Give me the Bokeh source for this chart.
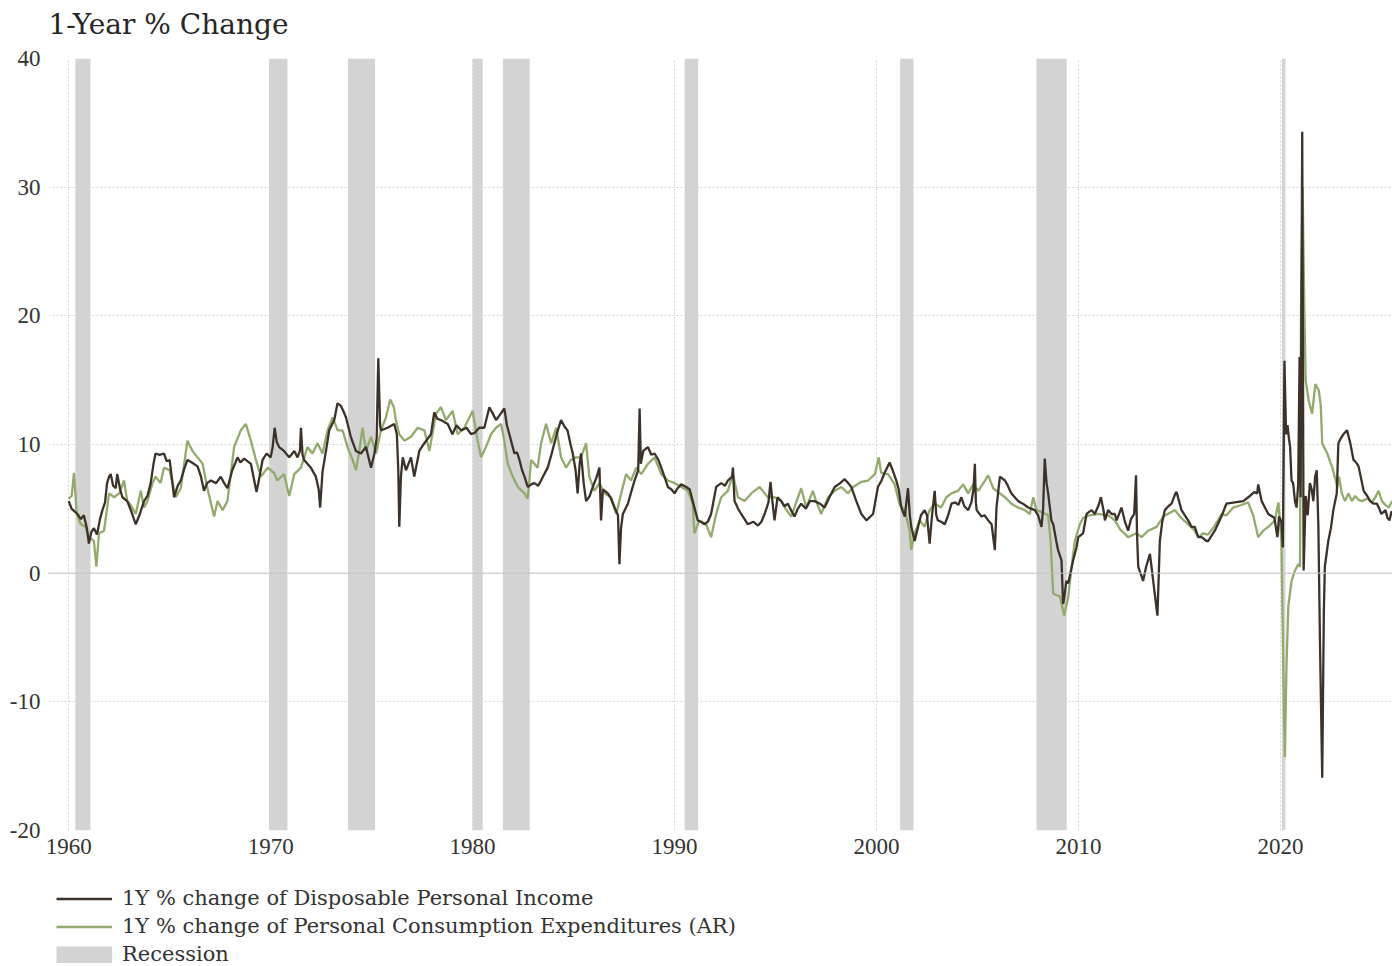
from bokeh.plotting import figure
from bokeh.layouts import column
from bokeh.models import Range1d, FixedTicker, Span, Legend, LegendItem, ColumnDataSource, Label
from bokeh.embed import file_html
from bokeh.resources import INLINE

# ---------------- data ----------------
dpi_year = [1960.00,1960.15,1960.43,1960.6,1960.75,1960.9,1961.0,1961.12,1961.25,1961.4,1961.55,1961.67,1961.8,1961.9,
 1962.0,1962.08,1962.2,1962.33,1962.4,1962.55,1962.66,1962.9,1963.1,1963.32,1963.5,1963.73,1963.9,1964.06,1964.2,1964.3,
 1964.5,1964.72,1964.85,1965.0,1965.1,1965.22,1965.4,1965.55,1965.7,1965.88,1966.1,1966.38,1966.55,1966.7,1966.85,1967.04,
 1967.3,1967.53,1967.7,1967.86,1968.1,1968.36,1968.5,1968.69,1969.02,1969.15,1969.3,1969.45,1969.6,1969.8,1970.0,1970.1,
 1970.2,1970.3,1970.42,1970.66,1970.92,1971.17,1971.33,1971.45,1971.5,1971.58,1971.66,1971.99,1972.24,1972.38,1972.45,
 1972.57,1972.74,1972.9,1973.15,1973.31,1973.48,1973.6,1973.73,1973.97,1974.22,1974.47,1974.72,1974.97,1975.14,1975.25,
 1975.33,1975.42,1975.46,1975.79,1976.12,1976.25,1976.32,1976.37,1976.45,1976.54,1976.7,1976.95,1977.11,1977.36,1977.61,
 1977.94,1978.1,1978.25,1978.43,1978.77,1979.0,1979.2,1979.43,1979.7,1979.92,1980.1,1980.33,1980.58,1980.83,1981.0,1981.16,
 1981.35,1981.57,1981.7,1981.82,1982.07,1982.2,1982.32,1982.45,1982.57,1982.73,1982.9,1983.06,1983.25,1983.39,1983.55,
 1983.72,1983.9,1984.05,1984.2,1984.38,1984.55,1984.7,1984.85,1984.96,1985.1,1985.2,1985.3,1985.37,1985.5,1985.62,1985.8,
 1985.95,1986.15,1986.28,1986.36,1986.45,1986.7,1986.85,1987.03,1987.2,1987.27,1987.35,1987.44,1987.69,1987.85,1988.02,
 1988.2,1988.27,1988.33,1988.45,1988.68,1988.85,1989.01,1989.2,1989.34,1989.5,1989.67,1989.85,1990.0,1990.15,1990.33,
 1990.58,1990.75,1990.9,1991.15,1991.3,1991.48,1991.65,1991.81,1992.06,1992.31,1992.5,1992.64,1992.85,1992.89,1992.97,
 1993.15,1993.3,1993.63,1993.9,1994.13,1994.3,1994.46,1994.65,1994.75,1994.85,1994.95,1995.1,1995.28,1995.45,1995.61,
 1995.8,1995.94,1996.1,1996.27,1996.5,1996.7,1996.93,1997.2,1997.43,1997.7,1997.93,1998.2,1998.42,1998.6,1998.75,1999.0,
 1999.25,1999.5,1999.83,2000.07,2000.25,2000.4,2000.65,2000.8,2000.98,2001.1,2001.23,2001.4,2001.48,2001.56,2001.65,
 2001.72,2001.89,2002.06,2002.2,2002.38,2002.5,2002.63,2002.75,2002.88,2002.96,2003.04,2003.2,2003.38,2003.55,2003.71,
 2003.9,2004.05,2004.2,2004.35,2004.54,2004.7,2004.8,2004.87,2004.92,2004.96,2005.2,2005.35,2005.53,2005.7,2005.86,
 2005.94,2006.11,2006.36,2006.5,2006.68,2007.01,2007.25,2007.51,2007.84,2008.0,2008.17,2008.25,2008.33,2008.42,2008.5,
 2008.66,2008.75,2008.9,2008.99,2009.16,2009.24,2009.29,2009.4,2009.49,2009.74,2009.9,2009.99,2010.23,2010.4,2010.48,
 2010.65,2010.81,2011.0,2011.11,2011.25,2011.31,2011.47,2011.64,2011.8,2011.89,2012.13,2012.3,2012.46,2012.6,2012.76,
 2012.85,2012.9,2012.96,2013.2,2013.35,2013.54,2013.7,2013.91,2014.03,2014.15,2014.28,2014.45,2014.61,2014.8,2014.86,
 2015.1,2015.43,2015.6,2015.76,2015.93,2016.1,2016.34,2016.42,2016.75,2017.08,2017.25,2017.33,2017.74,2018.16,2018.49,
 2018.7,2018.85,2018.9,2019.07,2019.4,2019.7,2019.85,2019.93,2020.05,2020.12,2020.2,2020.28,2020.35,2020.42,2020.48,
 2020.55,2020.63,2020.72,2020.8,2020.88,2020.95,2021.0,2021.08,2021.15,2021.25,2021.35,2021.46,2021.55,2021.63,2021.72,
 2021.8,2021.88,2021.96,2022.07,2022.15,2022.2,2022.37,2022.5,2022.62,2022.79,2022.87,2023.0,2023.12,2023.3,2023.46,
 2023.62,2023.75,2023.87,2024.12,2024.3,2024.45,2024.6,2024.78,2024.9,2025.0,2025.2,2025.3,2025.4,2025.5,2025.58]
dpi_val = [5.6,5.0,4.6,4.2,4.5,3.5,2.3,3.2,3.5,3.0,4.2,4.9,5.5,7.0,
 7.5,7.7,6.8,6.6,7.7,6.5,5.9,5.6,4.8,3.8,4.5,5.6,6.0,7.0,8.5,9.3,
 9.2,9.3,8.7,8.8,7.5,5.9,6.8,7.2,8.0,8.8,8.6,8.3,7.5,6.4,7.0,7.2,
 7.0,7.5,7.0,6.6,8.0,9.0,8.6,8.9,8.5,7.5,6.3,7.5,8.8,9.3,9.0,9.8,
 11.3,10.2,9.8,9.5,9.0,9.5,9.0,9.5,11.3,9.2,8.8,8.2,7.5,6.5,5.1,
 7.9,9.5,11.1,11.9,13.2,13.0,12.6,12.1,10.6,9.5,9.3,9.8,8.2,9.3,10.5,
 16.7,11.5,11.1,11.3,11.6,10.8,8.0,3.6,7.5,9.0,8.0,9.0,7.5,9.5,10.1,
 10.8,12.5,12.0,11.9,11.6,10.8,11.5,11.1,11.3,10.8,10.9,11.3,11.3,12.9,12.4,11.9,
 12.3,12.8,11.5,10.8,9.3,9.4,8.8,8.0,7.5,6.7,6.9,7.0,6.8,7.2,7.7,
 8.2,9.2,10.1,11.0,11.9,11.4,11.1,10.0,9.3,8.0,6.2,8.5,9.3,7.0,5.6,6.0,
 6.7,7.5,8.2,4.1,6.5,6.2,5.8,5.1,4.5,0.7,3.5,4.6,5.4,6.3,7.2,
 8.0,12.8,8.5,9.5,9.8,9.2,9.3,8.8,8.2,7.5,6.7,6.5,6.2,6.6,6.9,
 6.7,6.5,5.6,4.1,4.0,3.8,4.0,4.6,6.7,7.0,6.8,7.2,7.5,8.2,5.6,
 5.0,4.6,3.8,4.0,3.7,4.0,4.6,5.5,7.1,5.5,4.1,5.9,5.6,5.2,5.4,
 4.8,4.4,5.0,5.4,5.0,5.6,5.6,5.4,5.1,6.0,6.7,7.0,7.3,7.0,6.7,5.6,
 4.6,4.1,4.6,6.7,7.2,7.8,8.6,8.0,7.2,6.5,5.1,4.4,5.5,6.6,4.5,
 3.6,2.5,3.6,4.5,4.9,4.5,2.3,4.5,6.4,4.5,4.1,4.0,3.8,4.5,5.4,
 5.5,5.3,5.9,5.2,4.9,5.5,6.5,8.5,5.5,4.9,4.4,4.5,4.1,3.8,1.8,
 5.1,7.5,7.2,6.8,6.2,5.6,5.4,5.1,4.9,4.5,3.6,5.0,8.9,7.0,6.2,
 4.1,3.8,2.5,1.8,1.0,-2.4,-2.0,-0.6,-0.8,1.0,2.0,2.8,3.1,4.6,4.7,
 4.9,4.6,5.3,5.9,4.8,4.1,4.9,4.6,4.6,4.1,5.1,4.0,3.3,4.2,4.6,
 7.6,3.0,0.5,-0.6,0.5,1.5,-0.6,-3.3,2.5,4.0,4.9,5.2,5.4,6.2,6.3,
 4.9,4.1,3.6,3.6,2.8,2.8,2.5,2.5,3.3,4.4,5.1,5.4,5.5,5.6,6.0,
 6.3,6.2,6.9,5.6,4.6,4.3,2.8,4.4,4.0,2.0,16.5,10.8,11.5,10.5,9.8,
 7.2,7.0,5.6,5.1,6.9,16.8,5.9,34.3,0.2,6.0,4.5,7.0,6.5,5.6,7.5,
 8.0,3.6,-5.5,-15.9,-3.0,0.5,2.5,3.5,4.9,6.2,10.1,10.5,10.8,11.1,10.1,
 8.8,8.6,8.3,6.4,6.0,5.6,5.4,5.4,5.0,4.6,4.9,4.3,4.1,4.8,4.6]

pce_year = [1960.0,1960.15,1960.26,1960.4,1960.6,1960.83,1961.0,1961.25,1961.37,1961.5,1961.75,1962.0,1962.25,1962.5,
 1962.74,1962.9,1963.07,1963.32,1963.57,1963.73,1963.9,1964.15,1964.3,1964.55,1964.72,1965.0,1965.3,1965.55,1965.88,
 1966.13,1966.38,1966.63,1966.87,1967.2,1967.37,1967.62,1967.86,1968.19,1968.52,1968.77,1969.02,1969.27,1969.52,1969.85,
 1970.17,1970.33,1970.66,1970.92,1971.17,1971.5,1971.82,1972.07,1972.32,1972.57,1972.82,1973.07,1973.32,1973.56,1973.81,
 1974.06,1974.22,1974.39,1974.55,1974.72,1974.97,1975.22,1975.46,1975.71,1975.92,1976.1,1976.2,1976.37,1976.62,1976.95,
 1977.28,1977.61,1977.86,1978.19,1978.43,1978.68,1979.01,1979.26,1979.59,1979.84,1980.0,1980.25,1980.42,1980.66,1980.91,
 1981.16,1981.41,1981.57,1981.74,1981.99,1982.24,1982.57,1982.73,1982.9,1983.22,1983.39,1983.64,1983.89,1984.14,1984.38,
 1984.63,1984.87,1985.12,1985.37,1985.62,1985.78,1986.03,1986.28,1986.53,1986.86,1987.11,1987.36,1987.6,1987.85,1988.1,
 1988.35,1988.68,1989.01,1989.34,1989.67,1990.0,1990.33,1990.66,1990.9,1990.98,1991.23,1991.56,1991.81,1992.06,1992.31,
 1992.64,1992.89,1993.14,1993.47,1993.8,1994.21,1994.62,1994.95,1995.28,1995.5,1995.78,1996.0,1996.27,1996.52,1996.85,
 1997.01,1997.26,1997.6,1997.93,1998.26,1998.59,1998.84,1999.25,1999.58,1999.92,2000.11,2000.23,2000.57,2000.9,2001.15,
 2001.4,2001.64,2001.72,2001.89,2002.14,2002.38,2002.63,2002.88,2003.2,2003.46,2003.71,2004.04,2004.29,2004.54,2004.79,
 2005.04,2005.37,2005.53,2005.78,2006.11,2006.36,2006.68,2007.01,2007.34,2007.59,2007.76,2007.92,2008.25,2008.5,2008.62,
 2008.75,2008.91,2009.08,2009.29,2009.49,2009.66,2009.82,2010.07,2010.23,2010.56,2010.97,2011.47,2011.8,2012.06,2012.46,
 2012.87,2013.12,2013.45,2013.87,2014.2,2014.53,2014.78,2015.02,2015.43,2015.76,2015.93,2016.18,2016.42,2016.75,2017.08,
 2017.33,2017.66,2018.07,2018.4,2018.65,2018.9,2019.15,2019.4,2019.73,2019.9,2020.05,2020.14,2020.22,2020.3,2020.39,
 2020.55,2020.72,2020.88,2020.97,2021.02,2021.1,2021.18,2021.25,2021.4,2021.57,2021.73,2021.9,2022.0,2022.07,2022.32,
 2022.57,2022.82,2022.9,2023.04,2023.2,2023.37,2023.54,2023.7,2023.87,2024.04,2024.3,2024.53,2024.7,2024.86,2025.03,
 2025.2,2025.36,2025.53]
pce_val = [5.8,6.0,7.8,4.6,3.8,3.6,2.8,2.5,0.5,3.1,3.3,6.2,5.9,6.2,
 7.2,5.6,5.3,4.6,6.4,5.1,5.6,7.0,7.5,7.0,8.2,8.0,5.9,6.6,10.3,
 9.5,9.0,8.5,6.6,4.4,5.6,4.9,5.6,9.8,11.1,11.6,10.3,8.8,7.5,8.2,
 7.8,7.2,7.7,6.0,7.7,8.2,9.8,9.3,10.1,9.3,11.1,12.1,11.1,11.1,9.8,
 8.8,8.0,9.5,11.3,9.5,10.6,9.3,11.1,12.1,13.5,12.9,11.9,10.8,10.3,10.6,
 11.3,11.1,9.5,12.4,12.9,11.9,12.6,10.8,11.3,12.1,12.6,10.3,9.0,9.8,10.8,
 11.3,11.6,10.3,8.5,7.5,6.7,6.2,5.8,8.8,8.2,10.1,11.6,10.1,11.3,9.0,
 8.2,8.8,9.0,9.0,10.1,7.5,6.4,7.0,6.2,5.9,4.6,6.2,7.7,7.2,8.2,
 7.7,8.5,9.0,7.7,7.2,7.0,6.7,6.4,5.4,3.1,4.1,3.8,2.8,4.6,5.9,
 6.4,7.7,5.9,5.6,6.2,6.7,5.9,5.9,5.6,5.0,4.4,5.4,6.6,5.1,6.4,
 5.6,4.6,5.9,6.4,6.7,6.2,6.7,7.1,7.2,7.7,9.0,7.8,7.7,6.9,5.3,
 4.9,3.3,1.8,3.1,4.1,3.6,4.9,5.4,5.1,5.9,6.2,6.4,6.9,6.2,6.9,
 6.4,7.2,7.6,6.6,6.2,5.9,5.4,5.1,4.9,4.6,5.9,4.9,4.7,4.5,2.5,
 -1.6,-1.7,-1.8,-3.3,-1.9,0.5,2.5,3.8,4.3,4.5,4.6,4.5,4.1,3.4,2.8,
 3.1,2.8,3.3,3.6,4.4,4.7,4.9,4.4,3.8,3.3,2.8,3.1,3.0,3.7,4.6,
 4.5,5.1,5.3,5.5,4.5,2.8,3.3,3.6,4.1,5.5,2.5,-7.3,-14.3,-7.3,-2.6,
 -0.6,0.2,0.7,0.5,21.0,30.0,21.0,15.0,13.4,12.4,14.7,14.2,13.0,10.1,9.3,
 8.2,6.7,7.5,6.2,5.6,6.2,5.6,6.0,5.7,5.6,5.8,5.5,5.9,6.4,5.6,
 5.3,5.1,5.6]

recession_start = [1960.33, 1969.92, 1973.83, 1980.0, 1981.5, 1990.5, 2001.17, 2007.92, 2020.08]
recession_end = [1961.08, 1970.83, 1975.17, 1980.5, 1982.83, 1991.17, 2001.83, 2009.42, 2020.25]

x_ticks = [1960, 1970, 1980, 1990, 2000, 2010, 2020]
y_ticks = [-20, -10, 0, 10, 20, 30, 40]
x_tick_labels = {t: str(t) for t in x_ticks}
y_tick_labels = {t: str(t) for t in y_ticks}

title_text = "1-Year % Change"
dpi_label = "1Y % change of Disposable Personal Income"
pce_label = "1Y % change of Personal Consumption Expenditures (AR)"
rec_label = "Recession"

Y_MIN, Y_MAX = -20, 40
X_MIN, X_MAX = 1959.0, 2025.55

DPI_COLOR = "#3d3229"
PCE_COLOR = "#92aa6c"
REC_COLOR = "#d3d3d3"

W = 1392

# ---------------- title strip ----------------
tt = figure(width=W, height=40, output_backend="svg", toolbar_location=None,
            x_range=Range1d(0, 1), y_range=Range1d(0, 1),
            x_axis_type=None, y_axis_type=None,
            min_border_left=0, min_border_right=0, min_border_top=0, min_border_bottom=0)
tt.outline_line_color = None
tt.xgrid.visible = False
tt.ygrid.visible = False
tt.title.text = ""
tt.title.text_font_size = "1px"
tt.title.standoff = 0
tt.background_fill_color = "white"
tt.border_fill_color = "white"
tt.add_layout(Label(x=0, y=16, x_units="screen", y_units="screen", text=title_text,
                    text_font="DejaVu Serif", text_font_size="28px", text_color="#262626",
                    text_align="left", text_baseline="alphabetic"))

# ---------------- main figure ----------------
p = figure(width=W, height=838, output_backend="svg", toolbar_location=None,
           x_range=Range1d(X_MIN, X_MAX), y_range=Range1d(Y_MIN, Y_MAX),
           min_border_left=48, min_border_right=0, min_border_top=18, min_border_bottom=48)
p.outline_line_color = None
p.background_fill_color = "white"
p.border_fill_color = "white"
p.title.text = ""
p.title.text_font_size = "1px"
p.title.standoff = 0

for ax in (p.xaxis[0], p.yaxis[0]):
    ax.axis_line_color = None
    ax.major_tick_line_color = None
    ax.minor_tick_line_color = None
    ax.major_tick_out = 0
    ax.major_tick_in = 0
    ax.major_label_text_font = "Liberation Serif"
    ax.major_label_text_font_size = "23px"
    ax.major_label_text_color = "#333333"

p.xaxis.ticker = FixedTicker(ticks=x_ticks)
p.yaxis.ticker = FixedTicker(ticks=y_ticks)
p.xaxis.major_label_overrides = x_tick_labels
p.yaxis.major_label_overrides = y_tick_labels
p.xaxis.major_label_standoff = 8
p.yaxis.major_label_standoff = 8

p.xgrid.ticker = FixedTicker(ticks=x_ticks)
p.ygrid.ticker = FixedTicker(ticks=y_ticks)
for g in (p.xgrid[0], p.ygrid[0]):
    g.grid_line_color = "#d4d4d4"
    g.grid_line_dash = "2 2"
    g.grid_line_width = 1

rec_src = ColumnDataSource(dict(left=recession_start, right=recession_end,
                                top=[Y_MAX] * len(recession_start),
                                bottom=[Y_MIN] * len(recession_start)))
p.quad(left="left", right="right", top="top", bottom="bottom", source=rec_src,
       fill_color=REC_COLOR, line_color=None)

zero = Span(location=0, dimension="width", line_color="#c4c4c4", line_width=1)
p.add_layout(zero)

p.line(pce_year, pce_val, line_color=PCE_COLOR, line_width=2.3)
p.line(dpi_year, dpi_val, line_color=DPI_COLOR, line_width=2.3)

# ---------------- legend strip ----------------
lg = figure(width=W, height=88, output_backend="svg", toolbar_location=None,
            x_range=Range1d(0, 1), y_range=Range1d(0, 1),
            x_axis_type=None, y_axis_type=None,
            min_border_left=48, min_border_right=0, min_border_top=0, min_border_bottom=0)
lg.outline_line_color = None
lg.xgrid.visible = False
lg.ygrid.visible = False
lg.background_fill_color = "white"
lg.border_fill_color = "white"

# legend-only renderers: their points lie outside the strip's visible range
off_x = [-10, -9]
off_y = [-10, -10]
r_dpi = lg.line(x=off_x, y=off_y, line_color=DPI_COLOR, line_width=2.5)
r_pce = lg.line(x=off_x, y=off_y, line_color=PCE_COLOR, line_width=2.5)
r_rec = lg.line(x=off_x, y=off_y, line_color=REC_COLOR, line_width=17, line_cap="butt")

legend = Legend(items=[LegendItem(label=dpi_label, renderers=[r_dpi]),
                       LegendItem(label=pce_label, renderers=[r_pce]),
                       LegendItem(label=rec_label, renderers=[r_rec])],
                location="top_left", orientation="vertical",
                label_text_font="DejaVu Serif", label_text_font_size="21px",
                label_text_color="#333333",
                glyph_width=56, glyph_height=17, label_standoff=10,
                spacing=4, padding=0, margin=8,
                border_line_color=None, background_fill_alpha=0)
lg.add_layout(legend, "center")

layout = column(tt, p, lg, spacing=0)
open("out.html", "w").write(file_html(layout, INLINE))
